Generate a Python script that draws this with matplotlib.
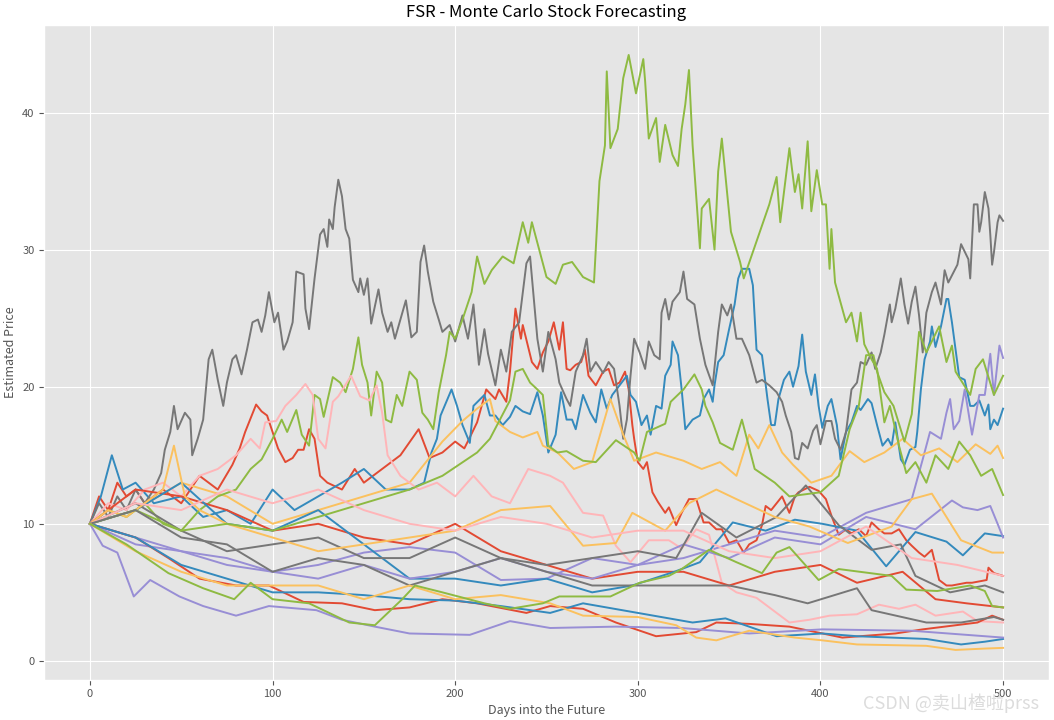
import matplotlib
matplotlib.use("Agg")
import matplotlib.pyplot as plt

plt.style.use("ggplot")
plt.rcParams['font.family'] = ['Noto Sans CJK SC', 'DejaVu Sans']

title = "FSR - Monte Carlo Stock Forecasting"
x_label = "Days into the Future"
y_label = "Estimated Price"
watermark = "CSDN @卖山楂啦prss"

# ---- series 1: red ----
red1_days = [0, 5, 10, 15, 20, 25, 30, 40, 50, 60, 70, 78, 82, 85, 91, 94, 97, 100, 103, 107, 111, 114, 117, 120, 123, 126, 130, 138, 145, 150, 160, 170, 180, 186, 193, 200, 205, 208, 212, 217, 222, 224, 228, 230, 233, 236, 237, 242, 245, 248, 251, 254, 257, 259, 261, 263, 266, 269, 271, 273, 277, 281, 284, 287, 290, 293, 295, 297, 298, 300, 303, 305, 308, 311, 315, 317, 321, 324, 328, 332, 336, 339, 343, 346, 350, 354, 358, 361, 365, 368, 370, 373, 376, 379, 383, 386, 388, 394, 399, 403, 406, 410, 414, 417, 421, 425, 428, 432, 435, 439, 443, 447, 450, 454, 457, 461, 465, 469, 472, 476, 480, 483, 487, 491, 492, 495, 500]
red1_price = [10, 12, 11, 13, 12, 12.5, 11.5, 12.5, 11.5, 13.5, 12.5, 14.3, 15.5, 16.7, 18.7, 18.2, 17.9, 16.7, 15.5, 14.5, 14.8, 15.4, 15.4, 16.9, 16.2, 13.5, 13, 12.5, 14, 13, 14, 15, 16.9, 14.8, 15.2, 16, 15.5, 16.3, 17.4, 19.8, 19.1, 19.8, 18.9, 21.1, 25.7, 23.5, 24.5, 21.8, 21.3, 22.5, 23.3, 24.7, 22.7, 24.7, 21.3, 21.2, 21.6, 21.8, 22.7, 20.8, 20.1, 21.1, 21.3, 20.1, 20.3, 21.1, 19.8, 17.2, 16.2, 14.5, 14, 14.5, 12.3, 11.6, 10.8, 11.2, 9.9, 10.8, 11.8, 11.8, 10.1, 10.1, 9.6, 9.6, 8.6, 8.8, 7.9, 8.5, 8.8, 9.9, 11.3, 11, 11.5, 12, 10.8, 12, 12.3, 12.7, 12.4, 11.8, 10.6, 9.2, 9.6, 9.3, 9.6, 9.1, 10.1, 9.6, 9.3, 9.3, 9.6, 8.8, 8.4, 7.9, 7.6, 8.1, 5.9, 5.5, 5.5, 5.6, 5.7, 5.7, 5.8, 5.9, 6.8, 6.4, 6.2]

# ---- series 2: blue ----
blue1_days = [0, 6, 12, 18, 25, 35, 50, 62, 75, 88, 100, 112, 125, 138, 150, 162, 175, 183, 187, 190, 192, 198, 201, 204, 208, 210, 216, 219, 222, 226, 230, 233, 237, 241, 245, 248, 251, 255, 258, 261, 264, 266, 270, 274, 277, 280, 283, 286, 290, 294, 296, 299, 302, 305, 307, 310, 313, 315, 318, 319, 322, 324, 326, 330, 334, 336, 339, 341, 342, 344, 347, 350, 353, 355, 357, 361, 363, 365, 368, 371, 373, 375, 377, 380, 383, 385, 388, 390, 392, 395, 397, 399, 401, 404, 406, 409, 411, 414, 417, 420, 422, 426, 428, 431, 434, 437, 439, 441, 444, 446, 449, 452, 453, 455, 457, 460, 461, 463, 466, 469, 470, 472, 474, 476, 479, 482, 484, 487, 490, 492, 493, 495, 497, 500]
blue1_price = [10, 12, 15, 12.5, 13, 11.5, 12, 10.5, 11, 10, 12.5, 11, 12, 13, 14, 12.5, 12.5, 13, 15.2, 16.2, 17.9, 19.8, 18.6, 17.2, 15.9, 18.6, 19.4, 17.9, 17.9, 17.2, 17.8, 18.6, 18.2, 18, 19.6, 17.9, 15.2, 16.5, 19.6, 17.6, 17.6, 16.9, 19.4, 18.1, 17.4, 19.8, 18.4, 19.4, 20.1, 20.8, 19.4, 18.9, 17.2, 17.9, 16.5, 18.6, 18.4, 20.8, 21.6, 23.3, 22.3, 19.8, 16.9, 17.6, 17.9, 19.1, 19.8, 18.9, 20.1, 21.8, 22.3, 24.2, 26, 27.9, 28.6, 28.6, 27.4, 22.7, 22.3, 19.1, 17.2, 17.2, 19.1, 20.5, 21.1, 20, 21.5, 23.8, 21.1, 19.4, 20.9, 18.6, 17, 18.6, 19.1, 17.2, 14.7, 16.7, 17.4, 18.6, 18.3, 19.1, 18.8, 17.2, 15.7, 16.2, 15.7, 17.4, 14.7, 14.3, 15.4, 15.6, 16.7, 19.8, 22, 23.3, 24.4, 22.9, 24.4, 26.4, 26.4, 24.7, 22.7, 20.7, 20.5, 18.6, 18.6, 19, 17.9, 18.7, 16.9, 17.6, 17.2, 18.4]

# ---- series 3: purple ----
purple1_days = [0, 25, 50, 75, 100, 125, 150, 175, 200, 225, 250, 275, 300, 325, 350, 375, 400, 425, 450, 456, 460, 466, 469, 471, 473, 476, 479, 483, 487, 490, 493, 495, 498, 500]
purple1_price = [10, 9, 8, 7.5, 6.5, 7, 7.9, 8.3, 7.9, 5.9, 6, 7.5, 7, 7.5, 8.5, 9.5, 9, 10.8, 11.8, 14.7, 16.7, 16.2, 18.1, 19.1, 16.9, 17.5, 19.8, 16.5, 19.4, 19.4, 22.4, 19.4, 23, 22.1]

# ---- series 4: grey ----
grey1_days = [0, 5, 10, 15, 20, 25, 30, 35, 39, 41, 44, 46, 48, 52, 55, 56, 59, 62, 65, 67, 70, 73, 75, 78, 80, 83, 86, 89, 92, 94, 96, 98, 101, 103, 106, 108, 111, 113, 117, 118, 120, 123, 126, 128, 130, 131, 133, 134, 136, 138, 140, 142, 144, 147, 148, 150, 152, 154, 158, 160, 163, 165, 167, 170, 173, 176, 179, 181, 183, 185, 188, 191, 193, 197, 200, 204, 207, 210, 213, 216, 218, 222, 225, 228, 231, 235, 239, 241, 245, 248, 251, 255, 257, 261, 263, 266, 270, 272, 274, 277, 281, 284, 287, 290, 292, 294, 296, 298, 301, 304, 306, 309, 312, 313, 315, 317, 319, 323, 325, 327, 331, 334, 337, 341, 344, 346, 349, 351, 354, 357, 361, 365, 368, 372, 376, 379, 381, 384, 386, 388, 390, 393, 396, 398, 400, 403, 406, 408, 411, 414, 417, 420, 422, 425, 428, 430, 433, 435, 438, 439, 441, 444, 446, 448, 450, 452, 454, 456, 458, 461, 463, 466, 468, 470, 475, 477, 481, 482, 484, 486, 487, 488, 490, 492, 493, 494, 495, 497, 498, 500]
grey1_price = [10, 11.5, 10.5, 12, 11, 12.5, 11.5, 12.5, 13.7, 15.4, 16.7, 18.6, 16.9, 18.1, 17.6, 15, 16.2, 17.6, 22, 22.7, 20.5, 18.6, 20.3, 22, 22.3, 20.9, 22.7, 24.7, 24.9, 24, 25.2, 26.9, 24.7, 25.4, 22.7, 23.3, 24.7, 28.4, 28.2, 25.7, 24.2, 27.9, 31.1, 31.5, 30.2, 32.2, 31.5, 33.1, 35.1, 33.9, 31.5, 30.8, 27.8, 26.9, 27.9, 26.7, 27.9, 24.6, 27.1, 25.4, 24, 24.7, 23.5, 24.9, 26.3, 23.6, 24, 29.1, 30.3, 28.4, 26.2, 24.9, 24, 24.5, 23.3, 25.2, 23.5, 26, 21.6, 24.2, 22.4, 20.1, 22.7, 21.1, 24, 24.7, 29, 29.5, 23.5, 21.1, 24, 22, 20.3, 19.1, 18.6, 21.1, 22.3, 23.5, 21.1, 21.8, 21, 21.8, 21.3, 18.6, 16.2, 17.6, 20.8, 23.5, 22.5, 21.3, 23.3, 22.3, 22, 25.4, 26.4, 24.9, 26.2, 26.9, 28.4, 26.4, 26, 23.5, 21.6, 20.1, 24, 26, 25.2, 26, 23.5, 23.5, 22.3, 20.3, 20.5, 20.1, 19.6, 18.9, 17.9, 16.7, 14.8, 14.7, 15.9, 15.5, 16.8, 17.2, 15.8, 17.5, 17.5, 16.2, 15.4, 16.7, 19.8, 20.3, 21.8, 21.6, 22.5, 21.3, 22.5, 23.8, 26, 24.7, 25.7, 27.9, 26, 24.6, 26.2, 27.3, 25.2, 22.5, 25.4, 26.9, 27.6, 26, 28.5, 27.6, 28.9, 30.4, 29.3, 27.9, 33.3, 33.3, 31.3, 32, 34.2, 33, 31.1, 28.9, 29.8, 32, 32.5, 32.1]

# ---- series 5: yellow ----
yellow1_days = [0, 25, 50, 75, 100, 125, 150, 175, 193, 204, 212, 219, 222, 230, 237, 245, 248, 256, 265, 275, 285, 292, 298, 310, 325, 335, 345, 354, 361, 366, 372, 379, 385, 395, 406, 416, 424, 435, 445, 455, 465, 475, 485, 493, 497, 500]
yellow1_price = [10, 11, 13, 12, 10, 11, 12, 13, 16, 17.5, 18.4, 19.1, 17.5, 16.7, 16.3, 16.7, 15.7, 15.2, 14, 14.5, 19.1, 16.5, 14.6, 15.2, 14.6, 14, 14.5, 13.5, 16.5, 15.5, 17.2, 15.2, 14.3, 13, 13.5, 15.3, 14.5, 15.2, 16.2, 15, 15.5, 14.5, 15.8, 15.1, 15.7, 14.8]

# ---- series 6: green ----
green1_days = [0, 10, 20, 30, 40, 50, 60, 70, 80, 88, 94, 100, 105, 108, 113, 116, 120, 123, 126, 128, 133, 137, 140, 144, 147, 149, 152, 154, 157, 160, 162, 165, 168, 171, 175, 179, 182, 185, 188, 191, 195, 197, 200, 204, 209, 212, 216, 220, 226, 232, 237, 240, 242, 246, 250, 255, 259, 264, 270, 276, 279, 282, 283, 285, 289, 292, 295, 299, 303, 304, 306, 310, 312, 315, 319, 322, 324, 326, 328, 330, 334, 335, 339, 342, 344, 346, 349, 351, 356, 358, 365, 372, 376, 378, 383, 386, 388, 390, 393, 395, 398, 401, 403, 405, 406, 408, 414, 417, 420, 422, 424, 428, 431, 435, 438, 441, 443, 447, 452, 458, 463, 470, 476, 482, 488, 494, 500]
green1_price = [10, 11, 10.5, 11.5, 10, 9.5, 11, 12, 12.5, 14, 14.7, 16.2, 17.6, 16.7, 18.3, 16.5, 15.7, 19.4, 19.1, 17.8, 20.7, 20.3, 19.6, 21.3, 23.6, 21.6, 20.3, 17.9, 21.1, 20.3, 17.6, 17.4, 19.4, 18.6, 21.1, 20.5, 18.1, 17.6, 16.9, 19.6, 22.3, 24, 23.5, 24.9, 26.9, 29.5, 27.5, 28.5, 29.5, 29, 32, 30.5, 32, 30, 28, 27.5, 28.9, 29.1, 28, 27.6, 35, 37.6, 43, 37.4, 38.8, 42.5, 44.2, 41.4, 43.9, 42.3, 38.1, 39.6, 36.4, 39.1, 36.9, 36.1, 38.8, 40.6, 43.1, 37.6, 30.1, 33, 33.7, 30, 35.7, 38.1, 34, 31.3, 29.1, 27.9, 30.6, 33.3, 35.3, 32, 37.4, 34.2, 35.5, 33, 37.9, 32.8, 35.8, 33.3, 33.3, 28.6, 31.5, 27.6, 24.7, 25.4, 23.3, 25.4, 23.1, 22, 21.3, 17.4, 18.6, 16.9, 15.7, 13.7, 14.5, 13, 15, 14, 16, 15, 13.5, 14, 12.1]

# ---- series 7: pink ----
pink1_days = [0, 10, 20, 30, 40, 50, 60, 70, 80, 88, 93, 96, 102, 107, 113, 118, 122, 125, 129, 133, 136, 143, 148, 153, 157, 160, 163, 170, 180, 190, 200, 210, 220, 230, 240, 252, 259, 270, 281, 288, 296, 306, 317, 324, 332, 339, 346, 354, 365, 376, 383, 394, 405, 420, 432, 443, 452, 463, 478, 486, 500]
pink1_price = [10, 11.5, 11, 12.5, 13, 12, 13.5, 14, 15, 16.2, 15.5, 17.4, 17.5, 18.6, 19.4, 20.2, 19.4, 16.2, 15.5, 18.9, 19.3, 20.8, 19.3, 19, 20.1, 18.1, 15, 13.5, 12.5, 13, 12, 13.5, 12, 11.5, 14, 13.5, 13, 10.8, 10.6, 8.4, 7.2, 8.8, 8.8, 8.2, 9.6, 9.2, 5.7, 5, 4.6, 3.5, 2.8, 3, 3.3, 3.4, 4.1, 3.8, 4.1, 3.3, 3.6, 2.9, 2.8]

# ---- series 8: red ----
red2_days = [0, 25, 50, 75, 100, 125, 150, 175, 200, 225, 250, 275, 300, 325, 350, 375, 400, 420, 445, 463, 480, 500]
red2_price = [10, 12.5, 12, 11, 9.5, 10, 9, 8.5, 10, 8, 7, 6, 6.5, 6.5, 5.5, 6.5, 7, 5.7, 6.5, 4.5, 4.2, 3.9]

# ---- series 9: blue ----
blue2_days = [0, 25, 50, 75, 100, 125, 150, 175, 200, 225, 250, 275, 297, 320, 334, 352, 370, 386, 401, 420, 436, 452, 469, 478, 490, 500]
blue2_price = [10, 11, 13, 10, 9.5, 11, 8.5, 6, 6, 5.5, 6, 5, 5.5, 6.5, 7.2, 10.1, 9.5, 10.3, 10, 9.5, 6.9, 9.4, 8.7, 7.7, 9.3, 9.1]

# ---- series 10: purple ----
purple2_days = [0, 25, 50, 75, 100, 125, 150, 175, 200, 225, 250, 275, 300, 325, 350, 375, 400, 425, 452, 472, 478, 486, 493, 497, 500]
purple2_price = [10, 8.5, 8, 7, 6.5, 6, 7, 6, 6.5, 7.5, 6.5, 6, 7, 8.5, 7.5, 9, 8.5, 10.5, 9.6, 11.7, 11.2, 11, 11.3, 10, 9.0]

# ---- series 11: grey ----
grey2_days = [0, 25, 50, 75, 100, 125, 150, 175, 200, 225, 250, 275, 300, 321, 335, 354, 376, 392, 410, 428, 444, 452, 471, 490, 500]
grey2_price = [10, 11.5, 9.5, 8, 8.5, 9, 7.5, 7.5, 9, 7.5, 7, 7.5, 8, 7.5, 10.8, 9, 10.5, 12.8, 9.9, 8.1, 8.5, 6.2, 5, 5.5, 5.0]

# ---- series 12: yellow ----
yellow2_days = [0, 10, 20, 30, 40, 46, 52, 60, 75, 100, 125, 150, 175, 200, 225, 252, 270, 288, 297, 315, 328, 343, 354, 375, 394, 415, 439, 450, 461, 477, 494, 500]
yellow2_price = [10, 11, 10.5, 11.5, 12.5, 15.7, 12, 11, 10, 9, 8, 8.5, 9, 9.5, 11, 11.3, 8.4, 8.6, 10.8, 9.5, 11.5, 12.5, 11.8, 10.5, 9.8, 8.6, 9.8, 11.8, 12.2, 8.8, 7.9, 7.9]

# ---- series 13: green ----
green2_days = [0, 25, 50, 75, 100, 125, 150, 175, 193, 212, 219, 230, 233, 237, 241, 245, 248, 251, 256, 261, 270, 277, 288, 298, 301, 305, 315, 318, 325, 331, 335, 337, 341, 345, 352, 357, 364, 375, 383, 400, 410, 416, 421, 425, 429, 431, 435, 440, 446, 450, 454, 458, 465, 469, 472, 474, 482, 485, 489, 495, 500]
green2_price = [10, 11, 9.5, 10, 9.5, 10.5, 11.5, 12.5, 13.5, 15.2, 16.2, 19, 21.1, 21.3, 20.3, 19.8, 19.4, 15.7, 15.2, 15.3, 14.6, 14.5, 16.1, 15.2, 14.6, 16.7, 17.3, 18.9, 19.8, 20.9, 19.8, 18.6, 17.4, 15.9, 15.4, 17.6, 14, 13, 12, 12.3, 13.5, 16.9, 18.6, 22.3, 22.3, 21.1, 19.6, 18.6, 16, 18, 24, 22.5, 24.4, 21.8, 23, 21.1, 19.4, 21.3, 22, 19.4, 20.8]

# ---- series 14: pink ----
pink2_days = [0, 25, 50, 75, 100, 125, 150, 175, 200, 225, 250, 275, 300, 325, 350, 375, 400, 425, 450, 475, 500]
pink2_price = [10, 11.5, 11, 12.5, 11.5, 12.5, 11, 10, 9.5, 10.5, 10, 9, 9.5, 9.5, 8, 7.5, 8, 9.8, 7.5, 7, 6.2]

# ---- series 15: red ----
red3_days = [0, 25, 43, 60, 80, 98, 117, 138, 156, 175, 193, 212, 239, 252, 270, 288, 310, 332, 343, 361, 383, 412, 441, 456, 486, 494, 500]
red3_price = [10, 9, 7.5, 6, 5.5, 5.5, 4.3, 4.2, 3.7, 3.9, 4.5, 4.2, 3.5, 4, 3.8, 2.8, 1.8, 2.1, 2.8, 2.7, 2.5, 1.7, 2, 2.3, 2.8, 3.3, 3.0]

# ---- series 16: blue ----
blue3_days = [0, 25, 50, 75, 100, 125, 150, 175, 200, 225, 252, 270, 300, 330, 348, 376, 401, 420, 458, 477, 490, 500]
blue3_price = [10, 9, 7, 6, 5, 5, 4.8, 4.5, 4.4, 4, 3.5, 4.2, 3.5, 2.8, 3.1, 1.8, 2, 1.8, 1.6, 1.2, 1.4, 1.6]

# ---- series 17: purple ----
purple3_days = [0, 7, 15, 24, 33, 49, 62, 80, 98, 124, 138, 156, 175, 208, 230, 252, 288, 324, 361, 401, 450, 500]
purple3_price = [10, 8.4, 7.9, 4.7, 5.9, 4.7, 4, 3.3, 4, 3.7, 3, 2.5, 2, 1.9, 2.9, 2.4, 2.5, 2.4, 2, 2.3, 2.2, 1.7]

# ---- series 18: grey ----
grey3_days = [0, 25, 50, 75, 100, 125, 150, 175, 200, 225, 250, 275, 300, 325, 350, 375, 393, 420, 428, 458, 477, 495, 500]
grey3_price = [10, 11, 9, 8.5, 6.5, 7.5, 7, 5.5, 6.5, 7.5, 6.5, 5.5, 5.5, 5.5, 5.5, 4.8, 4.2, 5.3, 3.7, 2.8, 2.8, 3.2, 3.0]

# ---- series 19: yellow ----
yellow3_days = [0, 25, 50, 75, 100, 125, 150, 175, 200, 225, 252, 270, 300, 321, 332, 343, 361, 386, 401, 420, 458, 474, 490, 500]
yellow3_price = [10, 8, 6.5, 5.5, 5.5, 5.5, 4.5, 5.5, 4.5, 4.8, 4.2, 3.3, 3.2, 2.6, 1.7, 1.5, 2.2, 1.7, 1.5, 1.2, 1.1, 0.8, 0.9, 0.95]

# ---- series 20: green ----
green3_days = [0, 20, 43, 62, 79, 88, 100, 120, 142, 156, 171, 178, 193, 216, 230, 248, 257, 285, 301, 317, 324, 339, 354, 368, 376, 383, 399, 410, 439, 447, 464, 482, 490, 494, 500]
green3_price = [10, 8.5, 6.4, 5.3, 4.5, 5.7, 4.5, 4.2, 2.8, 2.6, 4.5, 5.5, 5, 4.2, 3.8, 4.2, 4.7, 4.7, 5.7, 6.2, 6.7, 8.1, 7.2, 6.4, 7.9, 8.3, 5.9, 6.7, 6.2, 5.2, 5.1, 5.5, 5.1, 4, 3.9]

series = [
    (red1_days, red1_price), (blue1_days, blue1_price), (purple1_days, purple1_price),
    (grey1_days, grey1_price), (yellow1_days, yellow1_price), (green1_days, green1_price),
    (pink1_days, pink1_price), (red2_days, red2_price), (blue2_days, blue2_price),
    (purple2_days, purple2_price), (grey2_days, grey2_price), (yellow2_days, yellow2_price),
    (green2_days, green2_price), (pink2_days, pink2_price), (red3_days, red3_price),
    (blue3_days, blue3_price), (purple3_days, purple3_price), (grey3_days, grey3_price),
    (yellow3_days, yellow3_price), (green3_days, green3_price),
]

fig = plt.figure(figsize=(10.54, 7.2), dpi=100)
ax = fig.add_axes([0.042, 0.056, 0.953, 0.909])
for d, p in series:
    ax.plot(d, p, linewidth=1.4)

ax.set_title(title, fontsize=12, color='black')
ax.set_xlabel(x_label, fontsize=9, color='#555555', labelpad=3)
ax.set_ylabel(y_label, fontsize=9, color='#555555')
ax.tick_params(labelsize=8)
ax.set_yticks([0, 10, 20, 30, 40])
ax.set_xticks([0, 100, 200, 300, 400, 500])

fig.text(0.986, 0.024, watermark, ha='right', va='center', fontsize=13,
         color='#dcdcdc')

fig.savefig("out.png", dpi=100)
